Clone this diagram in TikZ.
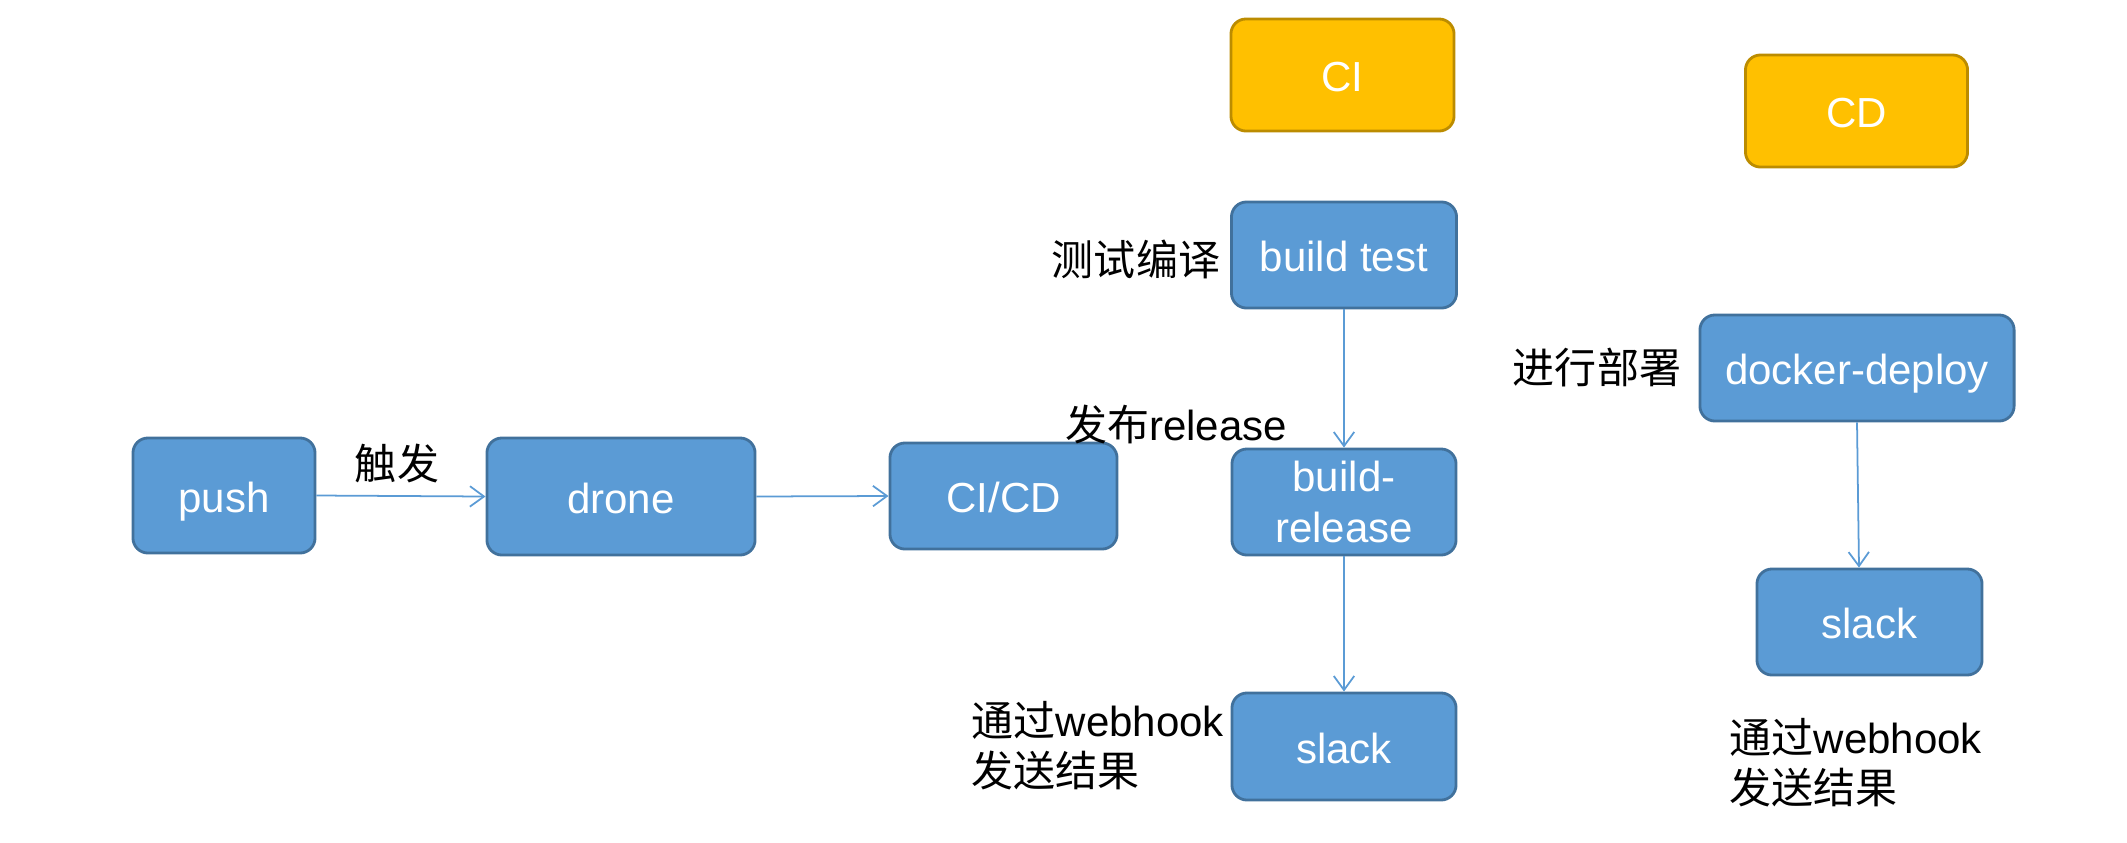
\documentclass[tikz,border=0pt]{standalone}
\usepackage{fontspec}
\setmainfont{Liberation Sans}
\newfontfamily\cjk{Noto Sans CJK SC}
\usetikzlibrary{arrows.meta}
\definecolor{boxblue}{HTML}{5B9BD5}
\definecolor{boxblueline}{HTML}{41719C}
\definecolor{boxyellow}{HTML}{FFC000}
\definecolor{boxyellowline}{HTML}{BC8C00}
\tikzset{
  bluebox/.style={draw=boxblueline, fill=boxblue, line width=0.8pt, rounded corners=0.15cm,
    text=white, align=center, inner sep=0pt, font=\fontsize{11.95pt}{14.3pt}\selectfont},
  oneline/.style={text height=0.41cm, text depth=0.08cm},
  yellowbox/.style={bluebox, draw=boxyellowline, fill=boxyellow},
  lbl/.style={inner sep=0pt, text=black, font=\fontsize{11.95pt}{14.4pt}\selectfont},
  conn/.style={draw=boxblue, line width=0.5pt, -{Straight Barb[length=4pt,width=5.8pt]}}
}
\begin{document}
\begin{tikzpicture}[x=0.01cm,y=-0.01cm]
\useasboundingbox (0,0) rectangle (2127,842);
% nodes
\node[bluebox, oneline, minimum width=1.82cm, minimum height=1.15cm] (push) at (224,495.5) {push};
\node[bluebox, oneline, minimum width=2.68cm, minimum height=1.17cm] (drone) at (621,496.5) {drone};
\node[bluebox, oneline, minimum width=2.27cm, minimum height=1.06cm] (cicd) at (1003.5,496) {CI/CD};
\node[yellowbox, oneline, minimum width=2.23cm, minimum height=1.12cm] (ci) at (1342.5,75) {CI};
\node[yellowbox, oneline, minimum width=2.22cm, minimum height=1.12cm] (cd) at (1856.5,111) {CD};
\node[bluebox, oneline, minimum width=2.25cm, minimum height=1.06cm] (buildtest) at (1344,255) {build test};
\node[bluebox, minimum width=2.24cm, minimum height=1.06cm] (buildrel) at (1344,502) {build-\\release};
\node[bluebox, oneline, minimum width=2.24cm, minimum height=1.07cm] (slackA) at (1344,746.5) {slack};
\node[bluebox, oneline, minimum width=3.14cm, minimum height=1.06cm] (docker) at (1857,368) {docker-deploy};
\node[bluebox, oneline, minimum width=2.25cm, minimum height=1.06cm] (slackB) at (1869.5,622) {slack};
% labels
\node[lbl] (lTrigger) at (397,463) {\cjk 触发};
\node[lbl] (lTest) at (1136,259) {\cjk 测试编译};
\node[lbl] (lRelease) at (1176,425) {{\cjk 发布}release};
\node[lbl] (lDeploy) at (1597,367.5) {\cjk 进行部署};
\node[lbl, anchor=west, align=left] (lHookA) at (971,745.5) {{\cjk 通过}webhook\\{\cjk 发送结果}};
\node[lbl, anchor=west, align=left] (lHookB) at (1729,762.5) {{\cjk 通过}webhook\\{\cjk 发送结果}};
% connectors
\draw[conn] (push.east) -- (drone.west);
\draw[conn] (drone.east) -- (cicd.west);
\draw[conn] (buildtest.south) -- (buildrel.north);
\draw[conn] (buildrel.south) -- (slackA.north);
\coordinate (slackBtop) at ([xshift=-0.105cm]slackB.north);
\draw[conn] (docker.south) -- (slackBtop);
\end{tikzpicture}
\end{document}
